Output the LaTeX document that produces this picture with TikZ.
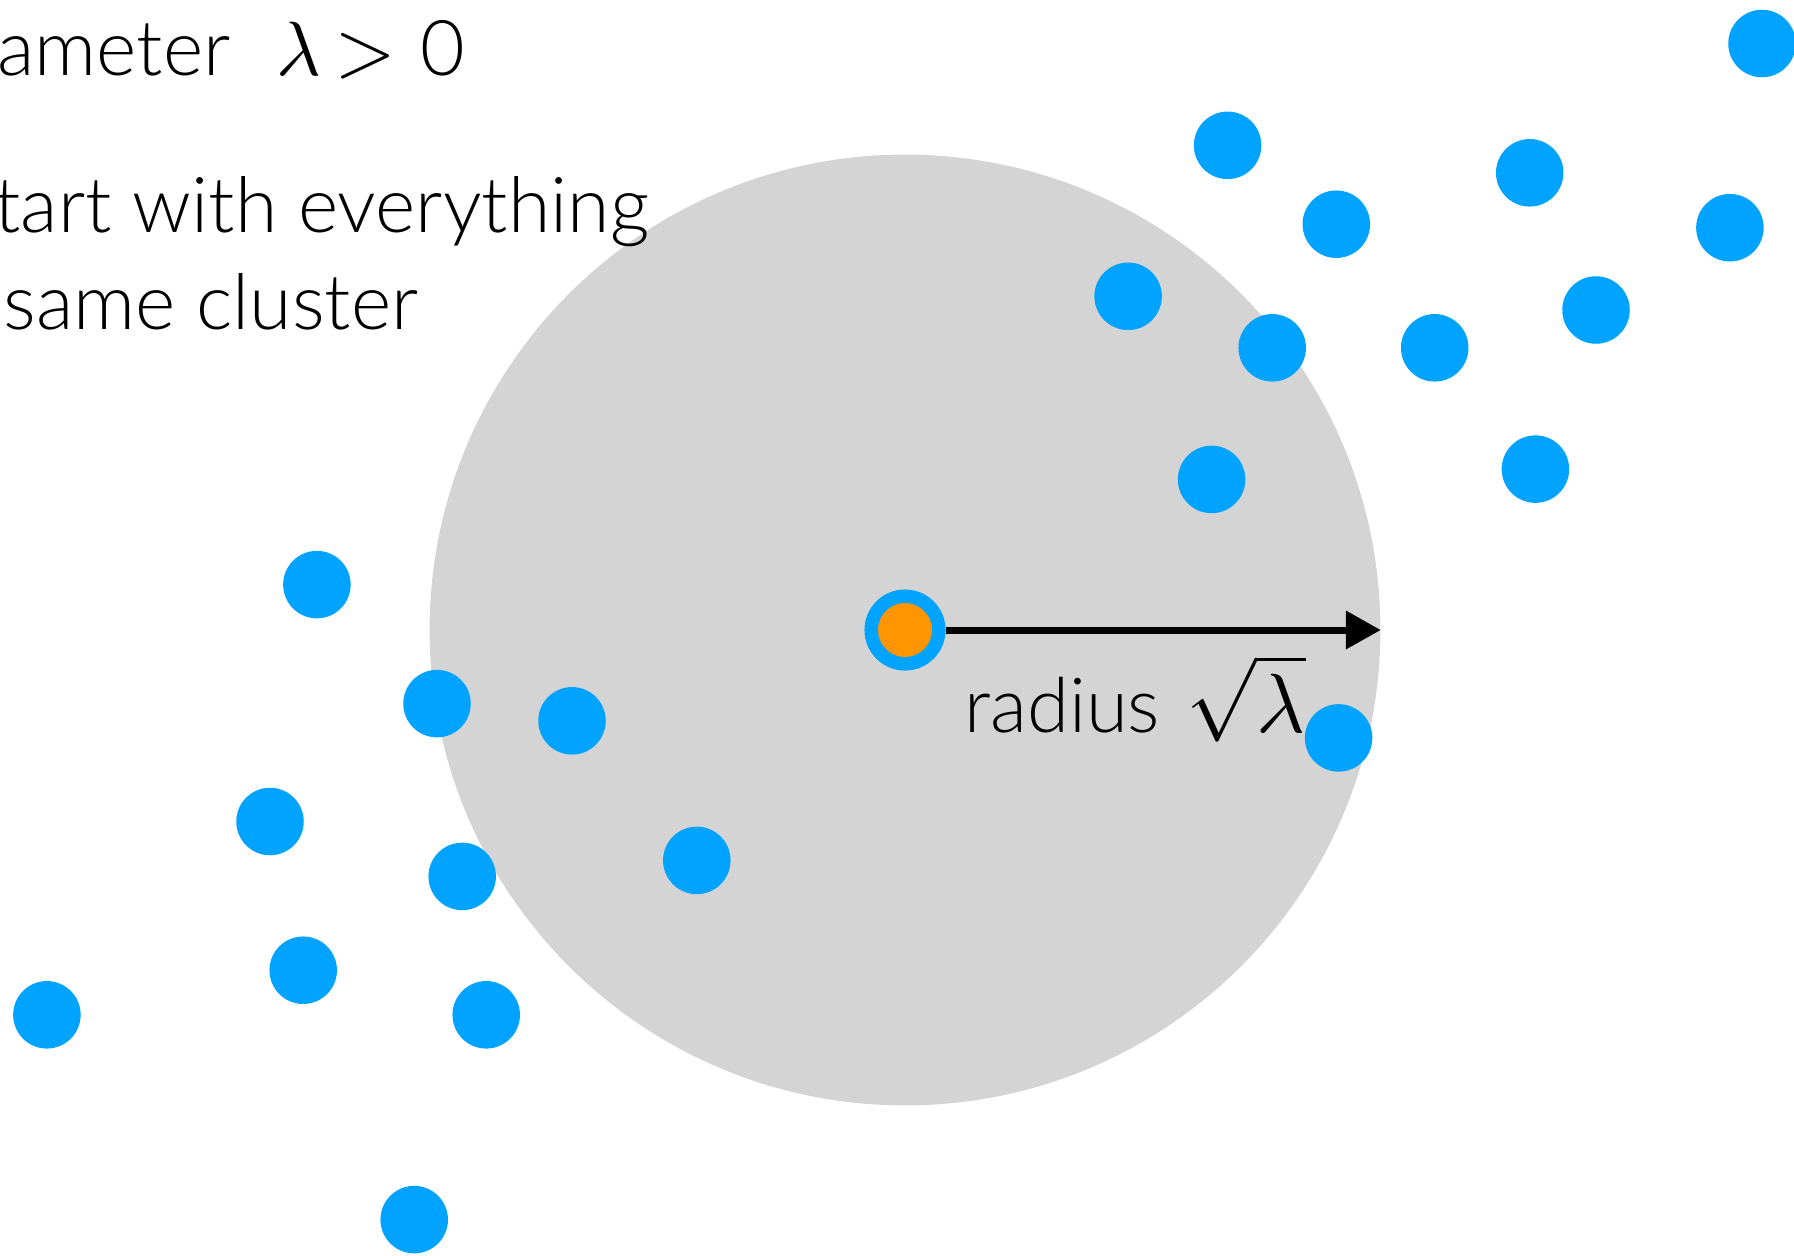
\documentclass[tikz,border=0pt]{standalone}
\usepackage{fontspec}
\usepackage{unicode-math}
\setmainfont{Lato}[UprightFont={* Light}]
\setmathfont{Latin Modern Math}
\usetikzlibrary{arrows.meta}
\definecolor{dotblue}{RGB}{0,163,255}
\definecolor{discgray}{RGB}{212,212,212}
\definecolor{centerorange}{RGB}{255,149,0}
\tikzset{
  dot/.style={circle, fill=dotblue, minimum size=33.75pt, inner sep=0pt},
  disc/.style={circle, fill=discgray, minimum size=475.4pt, inner sep=0pt},
  centerdot/.style={circle, fill=centerorange, draw=dotblue, line width=6.75pt, minimum size=33.8pt, inner sep=0pt},
  bigtext/.style={anchor=base west, inner sep=0pt, font=\fontsize{38.5}{46}\selectfont},
  radtext/.style={anchor=base west, inner sep=0pt, font=\fontsize{38}{46}\selectfont}
}
\begin{document}
\begin{tikzpicture}[x=0.5pt, y=-0.5pt]
\useasboundingbox (0,0) rectangle (1794,1255);
\clip (0,0) rectangle (1794,1255);
\node[disc] (big) at (905,630) {};
\node[dot] (d1) at (1762,43.5) {};
\node[dot] (d2) at (1227.6,145.3) {};
\node[dot] (d3) at (1529.7,172.8) {};
\node[dot] (d4) at (1336.3,224.2) {};
\node[dot] (d5) at (1729.9,227.7) {};
\node[dot] (d6) at (1128.1,296.3) {};
\node[dot] (d7) at (1596,310) {};
\node[dot] (d8) at (1272.2,347.8) {};
\node[dot] (d9) at (1434.7,347.8) {};
\node[dot] (d10) at (1211.6,479.4) {};
\node[dot] (d11) at (1535.4,469.1) {};
\node[dot] (d12) at (316.9,584.6) {};
\node[dot] (d13) at (437,703.6) {};
\node[dot] (d14) at (572,720.8) {};
\node[dot] (d15) at (1338.6,737.9) {};
\node[dot] (d16) at (270,821.5) {};
\node[dot] (d17) at (696.8,860.4) {};
\node[dot] (d18) at (462.2,876.4) {};
\node[dot] (d19) at (303.2,970.2) {};
\node[dot] (d20) at (46.9,1014.8) {};
\node[dot] (d21) at (486.2,1014.8) {};
\node[dot] (d22) at (414.2,1219.6) {};
\node[centerdot] (ctr) at (905,630) {};
\draw[line width=3.5pt, -{Triangle[length=17.5pt,width=18.5pt]}] (ctr.east) -- (big.east);
\node[radtext] (rad) at (964,732.5) {radius\hspace{0.35em}{\fontsize{42}{48}\selectfont$\sqrt{\lambda}$}};
\node[bigtext] (t1) at (-3,75) {ameter\hspace{0.6em}$\lambda$\hspace{0.18em}$>$\hspace{0.33em}0};
\node[bigtext] (t2) at (-6,232) {tart with everything};
\node[bigtext] (t3) at (3,329.5) {same cluster};
\end{tikzpicture}
\end{document}
